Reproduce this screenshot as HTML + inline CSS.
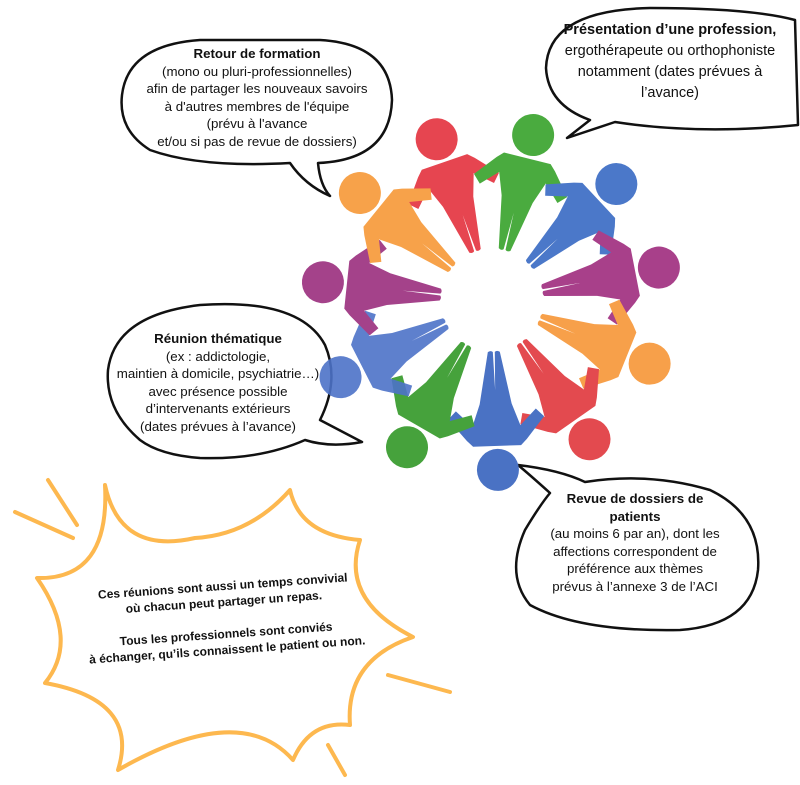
<!DOCTYPE html>
<html><head><meta charset="utf-8"><style>
body{margin:0;width:800px;height:785px;background:#fff;overflow:hidden;position:relative;font-family:"Liberation Sans",sans-serif;}
.t{position:absolute;text-align:center;font-size:13.3px;line-height:17.5px;color:#111;}
b{font-weight:bold}
</style></head><body>
<svg width="800" height="785" style="position:absolute;left:0;top:0">
<defs>
<g id="fig">
<circle cx="0" cy="-170" r="21"/>
<path d="M-24,-146 L24,-146 L30,-140 L48,-118 L40,-110 L24,-126 L16,-104 L6,-52 Q3,-50 1,-52 L0,-90 L-1,-52 Q-3,-50 -6,-52 L-16,-104 L-24,-126 L-40,-110 L-48,-118 L-30,-140 Z"/>
</g>
</defs>
<!-- bubbles -->
<g fill="#fff" stroke="#111" stroke-width="2.5" stroke-linejoin="round">
<path d="M290,163 Q200,168 150,150 Q118,130 122,95 Q128,45 200,40 L320,40 Q390,44 392,100 Q390,160 318,163 Q320,185 330,196 Q305,185 290,163 Z"/>
<path d="M590,120 Q548,105 546,68 Q548,10 650,8 Q750,8 795,20 L798,125 Q700,135 615,122 L567,138 Z"/>
<path d="M140,440 Q105,410 108,370 Q115,315 200,305 Q300,298 325,345 Q340,380 320,420 L362,442 Q330,448 305,440 Q260,460 200,458 Q160,455 140,440 Z"/>
<path d="M518,465 Q560,470 585,482 Q650,472 710,490 Q762,515 758,570 Q752,625 680,630 Q580,632 530,605 Q505,575 525,530 Q540,505 550,493 Q530,475 518,465 Z"/>
</g>
<!-- ring -->
<g>
<use href="#fig" fill="#e64550" transform="translate(492,300) rotate(-19)"/>
<use href="#fig" fill="#4aab3f" transform="translate(492,300) rotate(14)"/>
<use href="#fig" fill="#4b78c9" transform="translate(492,300) rotate(47)"/>
<use href="#fig" fill="#a8408a" transform="translate(492,300) rotate(79)"/>
<use href="#fig" fill="#f7a04a" transform="translate(492,300) rotate(112)"/>
<use href="#fig" fill="#e34a4f" transform="translate(492,300) rotate(145)"/>
<use href="#fig" fill="#4a72c4" transform="translate(492,300) rotate(178)"/>
<use href="#fig" fill="#46a23c" transform="translate(492,300) rotate(210)"/>
<use href="#fig" fill="#4c72c8" fill-opacity="0.9" transform="translate(492,300) rotate(243)"/>
<use href="#fig" fill="#a4428a" transform="translate(492,300) rotate(276)"/>
<use href="#fig" fill="#f7a24a" transform="translate(492,300) rotate(309)"/>
</g>
<!-- starburst -->
<g fill="none" stroke="#fdb84f" stroke-width="4" stroke-linecap="round" stroke-linejoin="round">
<path d="M105,485 Q120,555 195,538 Q250,535 290,490 Q300,535 360,540 Q340,600 413,637 Q345,660 350,725 Q310,720 293,760 Q240,700 118,770 Q140,700 45,683 Q80,640 37,578 Q110,580 105,485 Z"/>
<path d="M15,512 L73,538"/><path d="M48,480 L77,525"/><path d="M388,675 L450,692"/><path d="M328,745 L345,775"/>
</g>
</svg>
<div class="t" style="left:117px;top:45px;width:280px"><b>Retour de formation</b><br>(mono ou pluri-professionnelles)<br>afin de partager les nouveaux savoirs<br>à d'autres membres de l'équipe<br>(prévu à l'avance<br>et/ou si pas de revue de dossiers)</div>
<div class="t" style="left:540px;top:20px;width:260px;font-size:14.5px;line-height:21px"><b>Présentation d’une profession,</b><br>ergothérapeute ou orthophoniste<br>notamment (dates prévues à<br>l’avance)</div>
<div class="t" style="left:103px;top:330px;width:230px"><b>Réunion thématique</b><br>(ex : addictologie,<br>maintien à domicile, psychiatrie…)<br>avec présence possible<br>d’intervenants extérieurs<br>(dates prévues à l’avance)</div>
<div class="t" style="left:510px;top:490px;width:250px"><b>Revue de dossiers de<br>patients</b><br>(au moins 6 par an), dont les<br>affections correspondent de<br>préférence aux thèmes<br>prévus à l’annexe 3 de l’ACI</div>
<div class="t" style="left:60px;top:578px;width:330px;font-size:12px;line-height:16px;font-weight:bold;transform:rotate(-4deg)">Ces réunions sont aussi un temps convivial<br>où chacun peut partager un repas.<br><br>Tous les professionnels sont conviés<br>à échanger, qu’ils connaissent le patient ou non.</div>
</body></html>
